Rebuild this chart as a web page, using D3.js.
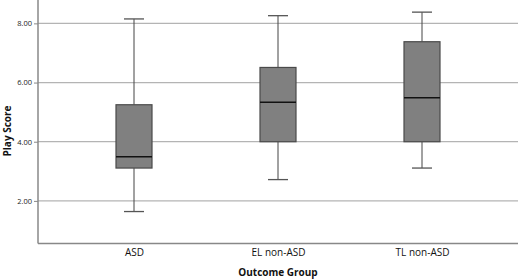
<!DOCTYPE html>
<html><head><meta charset="utf-8">
<script src="https://cdn.jsdelivr.net/npm/d3@7"></script>
<style>body{margin:0;background:#fff}svg{display:block}text{font-family:"Open Sans",sans-serif}</style>
</head><body><svg id="c" width="520" height="279"></svg>
<script>
const categories = ["ASD", "EL non-ASD", "TL non-ASD"];
const whiskerLow = [1.64, 2.72, 3.11];
const q1 = [3.11, 4.00, 4.00];
const median = [3.49, 5.33, 5.49];
const q3 = [5.25, 6.51, 7.38];
const whiskerHigh = [8.15, 8.26, 8.38];
const yTicks = [2, 4, 6, 8];
const yTickLabels = ["2.00", "4.00", "6.00", "8.00"];

(function () {
const data = categories.map((c, i) => ({c, lo: whiskerLow[i], q1: q1[i], med: median[i], q3: q3[i], hi: whiskerHigh[i]}));
const svg = d3.select("#c");
const mLeft = 38, mRight = 518, mTop = 0, mBottom = 243.5;
const y = d3.scaleLinear().domain([0.56, 8.79]).range([mBottom, mTop]);
const x = d3.scalePoint().domain(categories).range([134, 422]);
const boxW = 36, capW = 20;

// gridlines
svg.append("g").selectAll("line").data(yTicks).join("line")
  .attr("x1", mLeft).attr("x2", mRight).attr("y1", d => y(d)).attr("y2", d => y(d))
  .attr("stroke", "#b4b4b4").attr("stroke-width", 1.2);

// y axis
const yAxis = d3.axisLeft(y).tickValues(yTicks).tickFormat((d, i) => yTickLabels[i]).tickSize(4).tickPadding(2);
const ga = svg.append("g").attr("transform", `translate(${mLeft},0)`).call(yAxis);
ga.select(".domain").remove();
ga.selectAll(".tick line").attr("stroke", "#888");
ga.selectAll(".tick text").attr("font-size", 7.5).attr("fill", "#222");
svg.append("line").attr("x1", mLeft).attr("x2", mLeft).attr("y1", mTop).attr("y2", mBottom).attr("stroke", "#888").attr("stroke-width", 1.5);
svg.append("line").attr("x1", mLeft).attr("x2", mRight).attr("y1", mBottom).attr("y2", mBottom).attr("stroke", "#888").attr("stroke-width", 1.5);

// x axis labels
const xAxis = d3.axisBottom(x).tickSize(0).tickPadding(5);
const gx = svg.append("g").attr("transform", `translate(0,${mBottom})`).call(xAxis);
gx.select(".domain").remove();
gx.selectAll(".tick text").attr("font-size", 10).attr("fill", "#111");

// boxes
const g = svg.append("g").selectAll("g").data(data).join("g");
g.append("line").attr("x1", d => x(d.c)).attr("x2", d => x(d.c)).attr("y1", d => y(d.hi)).attr("y2", d => y(d.q3)).attr("stroke", "#444").attr("stroke-width", 1);
g.append("line").attr("x1", d => x(d.c)).attr("x2", d => x(d.c)).attr("y1", d => y(d.q1)).attr("y2", d => y(d.lo)).attr("stroke", "#444").attr("stroke-width", 1);
g.append("line").attr("x1", d => x(d.c) - capW/2).attr("x2", d => x(d.c) + capW/2).attr("y1", d => y(d.hi)).attr("y2", d => y(d.hi)).attr("stroke", "#555").attr("stroke-width", 1.3);
g.append("line").attr("x1", d => x(d.c) - capW/2).attr("x2", d => x(d.c) + capW/2).attr("y1", d => y(d.lo)).attr("y2", d => y(d.lo)).attr("stroke", "#555").attr("stroke-width", 1.3);
g.append("rect").attr("x", d => x(d.c) - boxW/2).attr("width", boxW).attr("y", d => y(d.q3)).attr("height", d => y(d.q1) - y(d.q3))
  .attr("fill", "#808080").attr("stroke", "#4a4a4a").attr("stroke-width", 1.2);
g.append("line").attr("x1", d => x(d.c) - boxW/2).attr("x2", d => x(d.c) + boxW/2).attr("y1", d => y(d.med)).attr("y2", d => y(d.med)).attr("stroke", "#111").attr("stroke-width", 1.5);

// titles
svg.append("text").attr("transform", "translate(11,131) rotate(-90)").attr("text-anchor", "middle").attr("font-size", 10).attr("font-weight", "bold").attr("fill", "#111").text("Play Score");
svg.append("text").attr("x", 278).attr("y", 276).attr("text-anchor", "middle").attr("font-size", 10).attr("font-weight", "bold").attr("fill", "#111").text("Outcome Group");
})();
</script></body></html>
